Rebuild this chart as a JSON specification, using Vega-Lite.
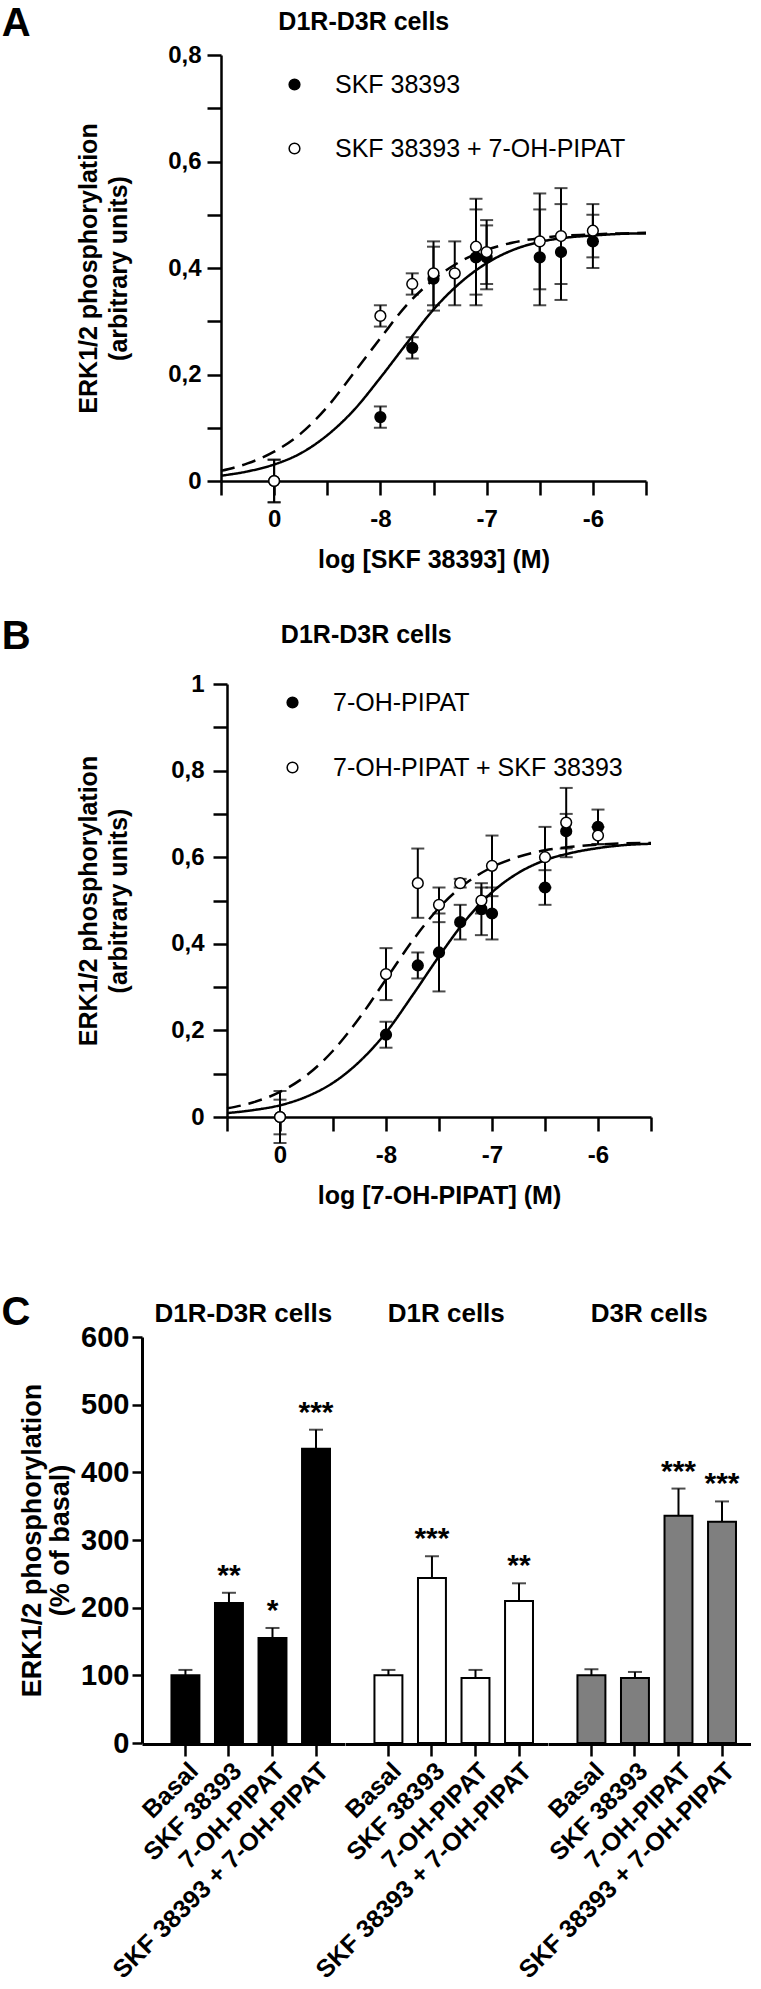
{
  "$schema": "https://vega.github.io/schema/vega-lite/v6.json",
  "background": "white",
  "padding": {"left": 0, "top": 4, "right": 0, "bottom": 0},
  "config": {
    "font": "Liberation Sans",
    "view": {"stroke": null},
    "axis": {"grid": false, "domainColor": "black", "tickColor": "black", "labelColor": "black", "titleColor": "black", "labelFontWeight": "bold", "titleFontWeight": "bold", "domainWidth": 2.5, "tickWidth": 2.5, "labelFont": "Liberation Sans", "titleFont": "Liberation Sans"},
    "title": {"font": "Liberation Sans", "fontWeight": "bold", "color": "black"},
    "header": {"labelFont": "Liberation Sans", "labelFontWeight": "bold", "labelColor": "black"},
    "legend": {"labelFont": "Liberation Sans", "labelColor": "black"}
  },
  "datasets": {
    "empty": [],
    "ptsA": [
      {"x": -9, "y": 0.0, "lo": -0.04, "hi": 0.04, "series": "SKF 38393"},
      {"x": -8, "y": 0.12, "lo": 0.10, "hi": 0.14, "series": "SKF 38393"},
      {"x": -7.7, "y": 0.25, "lo": 0.23, "hi": 0.27, "series": "SKF 38393"},
      {"x": -7.5, "y": 0.38, "lo": 0.32, "hi": 0.44, "series": "SKF 38393"},
      {"x": -7.1, "y": 0.42, "lo": 0.33, "hi": 0.51, "series": "SKF 38393"},
      {"x": -7, "y": 0.42, "lo": 0.36, "hi": 0.48, "series": "SKF 38393"},
      {"x": -6.5, "y": 0.42, "lo": 0.33, "hi": 0.51, "series": "SKF 38393"},
      {"x": -6.3, "y": 0.43, "lo": 0.34, "hi": 0.52, "series": "SKF 38393"},
      {"x": -6, "y": 0.45, "lo": 0.40, "hi": 0.50, "series": "SKF 38393"},
      {"x": -9, "y": 0.0, "lo": -0.04, "hi": 0.04, "series": "SKF 38393 + 7-OH-PIPAT"},
      {"x": -8, "y": 0.31, "lo": 0.29, "hi": 0.33, "series": "SKF 38393 + 7-OH-PIPAT"},
      {"x": -7.7, "y": 0.37, "lo": 0.35, "hi": 0.39, "series": "SKF 38393 + 7-OH-PIPAT"},
      {"x": -7.5, "y": 0.39, "lo": 0.33, "hi": 0.45, "series": "SKF 38393 + 7-OH-PIPAT"},
      {"x": -7.3, "y": 0.39, "lo": 0.33, "hi": 0.45, "series": "SKF 38393 + 7-OH-PIPAT"},
      {"x": -7.1, "y": 0.44, "lo": 0.35, "hi": 0.53, "series": "SKF 38393 + 7-OH-PIPAT"},
      {"x": -7, "y": 0.43, "lo": 0.37, "hi": 0.49, "series": "SKF 38393 + 7-OH-PIPAT"},
      {"x": -6.5, "y": 0.45, "lo": 0.36, "hi": 0.54, "series": "SKF 38393 + 7-OH-PIPAT"},
      {"x": -6.3, "y": 0.46, "lo": 0.37, "hi": 0.55, "series": "SKF 38393 + 7-OH-PIPAT"},
      {"x": -6, "y": 0.47, "lo": 0.42, "hi": 0.52, "series": "SKF 38393 + 7-OH-PIPAT"}
    ],
    "curveA": [
      {"x": -9.5, "y": 0.010, "fit": "single"}, {"x": -9.25, "y": 0.018, "fit": "single"}, {"x": -9.0, "y": 0.031, "fit": "single"}, {"x": -8.75, "y": 0.052, "fit": "single"}, {"x": -8.5, "y": 0.086, "fit": "single"}, {"x": -8.25, "y": 0.133, "fit": "single"}, {"x": -8.0, "y": 0.194, "fit": "single"}, {"x": -7.75, "y": 0.259, "fit": "single"}, {"x": -7.5, "y": 0.322, "fit": "single"}, {"x": -7.25, "y": 0.372, "fit": "single"}, {"x": -7.0, "y": 0.409, "fit": "single"}, {"x": -6.75, "y": 0.434, "fit": "single"}, {"x": -6.5, "y": 0.449, "fit": "single"}, {"x": -6.25, "y": 0.457, "fit": "single"}, {"x": -6.0, "y": 0.461, "fit": "single"}, {"x": -5.75, "y": 0.464, "fit": "single"}, {"x": -5.5, "y": 0.465, "fit": "single"},
      {"x": -9.5, "y": 0.019, "fit": "combined"}, {"x": -9.25, "y": 0.033, "fit": "combined"}, {"x": -9.0, "y": 0.055, "fit": "combined"}, {"x": -8.75, "y": 0.089, "fit": "combined"}, {"x": -8.5, "y": 0.139, "fit": "combined"}, {"x": -8.25, "y": 0.203, "fit": "combined"}, {"x": -8.0, "y": 0.268, "fit": "combined"}, {"x": -7.75, "y": 0.331, "fit": "combined"}, {"x": -7.5, "y": 0.378, "fit": "combined"}, {"x": -7.25, "y": 0.412, "fit": "combined"}, {"x": -7.0, "y": 0.434, "fit": "combined"}, {"x": -6.75, "y": 0.448, "fit": "combined"}, {"x": -6.5, "y": 0.456, "fit": "combined"}, {"x": -6.25, "y": 0.461, "fit": "combined"}, {"x": -6.0, "y": 0.463, "fit": "combined"}, {"x": -5.75, "y": 0.465, "fit": "combined"}, {"x": -5.5, "y": 0.466, "fit": "combined"}
    ],
    "ptsB": [
      {"x": -9, "y": 0.0, "lo": -0.04, "hi": 0.04, "series": "7-OH-PIPAT"},
      {"x": -8, "y": 0.19, "lo": 0.16, "hi": 0.22, "series": "7-OH-PIPAT"},
      {"x": -7.7, "y": 0.35, "lo": 0.32, "hi": 0.38, "series": "7-OH-PIPAT"},
      {"x": -7.5, "y": 0.38, "lo": 0.29, "hi": 0.47, "series": "7-OH-PIPAT"},
      {"x": -7.3, "y": 0.45, "lo": 0.41, "hi": 0.49, "series": "7-OH-PIPAT"},
      {"x": -7.1, "y": 0.48, "lo": 0.42, "hi": 0.54, "series": "7-OH-PIPAT"},
      {"x": -7, "y": 0.47, "lo": 0.41, "hi": 0.53, "series": "7-OH-PIPAT"},
      {"x": -6.5, "y": 0.53, "lo": 0.49, "hi": 0.57, "series": "7-OH-PIPAT"},
      {"x": -6.3, "y": 0.66, "lo": 0.62, "hi": 0.70, "series": "7-OH-PIPAT"},
      {"x": -6, "y": 0.67, "lo": 0.63, "hi": 0.71, "series": "7-OH-PIPAT"},
      {"x": -9, "y": 0.0, "lo": -0.06, "hi": 0.06, "series": "7-OH-PIPAT + SKF 38393"},
      {"x": -8, "y": 0.33, "lo": 0.27, "hi": 0.39, "series": "7-OH-PIPAT + SKF 38393"},
      {"x": -7.7, "y": 0.54, "lo": 0.46, "hi": 0.62, "series": "7-OH-PIPAT + SKF 38393"},
      {"x": -7.5, "y": 0.49, "lo": 0.45, "hi": 0.53, "series": "7-OH-PIPAT + SKF 38393"},
      {"x": -7.3, "y": 0.54, "lo": 0.53, "hi": 0.55, "series": "7-OH-PIPAT + SKF 38393"},
      {"x": -7.1, "y": 0.50, "lo": 0.47, "hi": 0.53, "series": "7-OH-PIPAT + SKF 38393"},
      {"x": -7, "y": 0.58, "lo": 0.51, "hi": 0.65, "series": "7-OH-PIPAT + SKF 38393"},
      {"x": -6.5, "y": 0.60, "lo": 0.53, "hi": 0.67, "series": "7-OH-PIPAT + SKF 38393"},
      {"x": -6.3, "y": 0.68, "lo": 0.60, "hi": 0.76, "series": "7-OH-PIPAT + SKF 38393"},
      {"x": -6, "y": 0.65, "lo": 0.63, "hi": 0.67, "series": "7-OH-PIPAT + SKF 38393"}
    ],
    "curveB": [
      {"x": -9.5, "y": 0.009, "fit": "single"}, {"x": -9.25, "y": 0.016, "fit": "single"}, {"x": -9.0, "y": 0.027, "fit": "single"}, {"x": -8.75, "y": 0.047, "fit": "single"}, {"x": -8.5, "y": 0.079, "fit": "single"}, {"x": -8.25, "y": 0.128, "fit": "single"}, {"x": -8.0, "y": 0.195, "fit": "single"}, {"x": -7.75, "y": 0.281, "fit": "single"}, {"x": -7.5, "y": 0.371, "fit": "single"}, {"x": -7.25, "y": 0.454, "fit": "single"}, {"x": -7.0, "y": 0.519, "fit": "single"}, {"x": -6.75, "y": 0.564, "fit": "single"}, {"x": -6.5, "y": 0.593, "fit": "single"}, {"x": -6.25, "y": 0.61, "fit": "single"}, {"x": -6.0, "y": 0.621, "fit": "single"}, {"x": -5.75, "y": 0.628, "fit": "single"}, {"x": -5.5, "y": 0.631, "fit": "single"},
      {"x": -9.5, "y": 0.020, "fit": "combined"}, {"x": -9.25, "y": 0.034, "fit": "combined"}, {"x": -9.0, "y": 0.058, "fit": "combined"}, {"x": -8.75, "y": 0.096, "fit": "combined"}, {"x": -8.5, "y": 0.153, "fit": "combined"}, {"x": -8.25, "y": 0.229, "fit": "combined"}, {"x": -8.0, "y": 0.318, "fit": "combined"}, {"x": -7.75, "y": 0.407, "fit": "combined"}, {"x": -7.5, "y": 0.483, "fit": "combined"}, {"x": -7.25, "y": 0.539, "fit": "combined"}, {"x": -7.0, "y": 0.577, "fit": "combined"}, {"x": -6.75, "y": 0.601, "fit": "combined"}, {"x": -6.5, "y": 0.616, "fit": "combined"}, {"x": -6.25, "y": 0.624, "fit": "combined"}, {"x": -6.0, "y": 0.629, "fit": "combined"}, {"x": -5.75, "y": 0.632, "fit": "combined"}, {"x": -5.5, "y": 0.633, "fit": "combined"}
    ],
    "bars": [
      {"cell": "D1R-D3R cells", "treatment": "Basal", "value": 100, "upper": 108, "sig": ""},
      {"cell": "D1R-D3R cells", "treatment": "SKF 38393", "value": 207, "upper": 222, "sig": "**"},
      {"cell": "D1R-D3R cells", "treatment": "7-OH-PIPAT", "value": 155, "upper": 170, "sig": "*"},
      {"cell": "D1R-D3R cells", "treatment": "SKF 38393 + 7-OH-PIPAT", "value": 435, "upper": 463, "sig": "***"},
      {"cell": "D1R cells", "treatment": "Basal", "value": 100, "upper": 108, "sig": ""},
      {"cell": "D1R cells", "treatment": "SKF 38393", "value": 244, "upper": 276, "sig": "***"},
      {"cell": "D1R cells", "treatment": "7-OH-PIPAT", "value": 96, "upper": 108, "sig": ""},
      {"cell": "D1R cells", "treatment": "SKF 38393 + 7-OH-PIPAT", "value": 210, "upper": 236, "sig": "**"},
      {"cell": "D3R cells", "treatment": "Basal", "value": 100, "upper": 109, "sig": ""},
      {"cell": "D3R cells", "treatment": "SKF 38393", "value": 96, "upper": 105, "sig": ""},
      {"cell": "D3R cells", "treatment": "7-OH-PIPAT", "value": 336, "upper": 376, "sig": "***"},
      {"cell": "D3R cells", "treatment": "SKF 38393 + 7-OH-PIPAT", "value": 327, "upper": 357, "sig": "***"}
    ]
  },
  "columns": 1,
  "spacing": 85,
  "resolve": {"scale": {"x": "independent", "y": "independent", "fill": "independent", "strokeDash": "independent"}, "legend": {"fill": "independent", "strokeDash": "independent"}, "axis": {"x": "independent", "y": "independent"}},
  "concat": [
    {
      "columns": 1,
      "spacing": 45,
      "resolve": {"scale": {"x": "independent", "y": "independent", "fill": "independent", "strokeDash": "independent"}, "legend": {"fill": "independent", "strokeDash": "independent"}, "axis": {"x": "independent", "y": "independent"}},
      "concat": [
        {
          "spacing": 0,
          "resolve": {"scale": {"x": "independent", "y": "independent", "fill": "independent", "strokeDash": "independent"}, "legend": {"fill": "independent", "strokeDash": "independent"}, "axis": {"x": "independent", "y": "independent"}},
          "hconcat": [
            {"width": 1, "height": 1, "data": {"name": "empty"}, "mark": {"type": "point", "opacity": 0}},
            {
              "title": {"text": "A", "anchor": "start", "frame": "bounds", "fontSize": 40, "dx": -75, "dy": 34, "offset": 0},
              "resolve": {"scale": {"fill": "independent", "strokeDash": "independent"}, "legend": {"fill": "independent", "strokeDash": "independent"}},
              "vconcat": [
                {
                  "title": {"text": "D1R-D3R cells", "anchor": "middle", "frame": "bounds", "fontSize": 25, "offset": 8},
                  "width": 425,
                  "height": 426,
                  "layer": [
                    {
                      "data": {"name": "curveA"},
                      "mark": {"type": "line", "interpolate": "monotone", "color": "black", "strokeWidth": 2.5},
                      "encoding": {
                        "x": {"field": "x", "type": "quantitative", "scale": {"domain": [-9.5, -5.5], "nice": false, "zero": false},
                          "axis": {"values": [-9.5, -9, -8.5, -8, -7.5, -7, -6.5, -6, -5.5], "labelExpr": "datum.value == -9 ? '0' : (datum.value % 1 == 0 ? '-' + abs(datum.value) : '')", "title": "log [SKF 38393] (M)", "labelFontSize": 24, "titleFontSize": 25, "tickSize": 14, "labelPadding": 12, "titlePadding": 16, "labelFlush": false}},
                        "y": {"field": "y", "type": "quantitative", "scale": {"domain": [0, 0.8], "nice": false},
                          "axis": {"values": [0, 0.1, 0.2, 0.3, 0.4, 0.5, 0.6, 0.7, 0.8], "labelExpr": "datum.value == 0 ? '0' : (round(datum.value * 10) % 2 == 0 ? replace(format(datum.value, '.1f'), '.', ',') : '')", "title": ["ERK1/2 phosphorylation", "(arbitrary units)"], "labelFontSize": 24, "titleFontSize": 25, "tickSize": 14, "labelPadding": 6, "titlePadding": 36, "titleLineHeight": 30}},
                        "strokeDash": {"field": "fit", "type": "nominal", "scale": {"domain": ["single", "combined"], "range": [[1, 0], [14, 8]]}, "legend": null}
                      }
                    },
                    {
                      "data": {"name": "ptsA"},
                      "mark": {"type": "rule", "color": "black", "strokeWidth": 2},
                      "encoding": {"x": {"field": "x", "type": "quantitative"}, "y": {"field": "lo", "type": "quantitative"}, "y2": {"field": "hi"}}
                    },
                    {
                      "data": {"name": "ptsA"},
                      "mark": {"type": "tick", "orient": "horizontal", "color": "black", "size": 13, "thickness": 2},
                      "encoding": {"x": {"field": "x", "type": "quantitative"}, "y": {"field": "lo", "type": "quantitative"}}
                    },
                    {
                      "data": {"name": "ptsA"},
                      "mark": {"type": "tick", "orient": "horizontal", "color": "black", "size": 13, "thickness": 2},
                      "encoding": {"x": {"field": "x", "type": "quantitative"}, "y": {"field": "hi", "type": "quantitative"}}
                    },
                    {
                      "data": {"name": "ptsA"},
                      "mark": {"type": "point", "filled": true, "size": 115, "stroke": "black", "strokeWidth": 1.5, "opacity": 1},
                      "encoding": {
                        "x": {"field": "x", "type": "quantitative"},
                        "y": {"field": "y", "type": "quantitative"},
                        "fill": {"field": "series", "type": "nominal", "scale": {"domain": ["SKF 38393", "SKF 38393 + 7-OH-PIPAT"], "range": ["black", "white"]},
                          "legend": {"orient": "none", "legendX": 61, "legendY": 17, "title": null, "labelFontSize": 25, "labelFontWeight": "normal", "labelLimit": 0, "symbolSize": 115, "symbolType": "circle", "symbolStrokeColor": "black", "symbolStrokeWidth": 1.5, "rowPadding": 38, "labelOffset": 28, "padding": 0}}
                      }
                    }
                  ]
                }
              ]
            }
          ]
        },
        {
          "spacing": 0,
          "resolve": {"scale": {"x": "independent", "y": "independent", "fill": "independent", "strokeDash": "independent"}, "legend": {"fill": "independent", "strokeDash": "independent"}, "axis": {"x": "independent", "y": "independent"}},
          "hconcat": [
            {"width": 1, "height": 1, "data": {"name": "empty"}, "mark": {"type": "point", "opacity": 0}},
            {
              "title": {"text": "B", "anchor": "start", "frame": "bounds", "fontSize": 40, "dx": -75, "dy": 34, "offset": 0},
              "resolve": {"scale": {"fill": "independent", "strokeDash": "independent"}, "legend": {"fill": "independent", "strokeDash": "independent"}},
              "vconcat": [
                {
                  "title": {"text": "D1R-D3R cells", "anchor": "middle", "frame": "bounds", "fontSize": 25, "offset": 24},
                  "width": 424,
                  "height": 433,
                  "layer": [
                    {
                      "data": {"name": "curveB"},
                      "mark": {"type": "line", "interpolate": "monotone", "color": "black", "strokeWidth": 2.5},
                      "encoding": {
                        "x": {"field": "x", "type": "quantitative", "scale": {"domain": [-9.5, -5.5], "nice": false, "zero": false},
                          "axis": {"values": [-9.5, -9, -8.5, -8, -7.5, -7, -6.5, -6, -5.5], "labelExpr": "datum.value == -9 ? '0' : (datum.value % 1 == 0 ? '-' + abs(datum.value) : '')", "title": "log [7-OH-PIPAT] (M)", "labelFontSize": 24, "titleFontSize": 25, "tickSize": 14, "labelPadding": 12, "titlePadding": 16, "labelFlush": false}},
                        "y": {"field": "y", "type": "quantitative", "scale": {"domain": [0, 1], "nice": false},
                          "axis": {"values": [0, 0.1, 0.2, 0.3, 0.4, 0.5, 0.6, 0.7, 0.8, 0.9, 1], "labelExpr": "datum.value == 0 ? '0' : (datum.value == 1 ? '1' : (round(datum.value * 10) % 2 == 0 ? replace(format(datum.value, '.1f'), '.', ',') : ''))", "title": ["ERK1/2 phosphorylation", "(arbitrary units)"], "labelFontSize": 24, "titleFontSize": 25, "tickSize": 14, "labelPadding": 9, "titlePadding": 39, "titleLineHeight": 30}},
                        "strokeDash": {"field": "fit", "type": "nominal", "scale": {"domain": ["single", "combined"], "range": [[1, 0], [14, 8]]}, "legend": null}
                      }
                    },
                    {
                      "data": {"name": "ptsB"},
                      "mark": {"type": "rule", "color": "black", "strokeWidth": 2},
                      "encoding": {"x": {"field": "x", "type": "quantitative"}, "y": {"field": "lo", "type": "quantitative"}, "y2": {"field": "hi"}}
                    },
                    {
                      "data": {"name": "ptsB"},
                      "mark": {"type": "tick", "orient": "horizontal", "color": "black", "size": 13, "thickness": 2},
                      "encoding": {"x": {"field": "x", "type": "quantitative"}, "y": {"field": "lo", "type": "quantitative"}}
                    },
                    {
                      "data": {"name": "ptsB"},
                      "mark": {"type": "tick", "orient": "horizontal", "color": "black", "size": 13, "thickness": 2},
                      "encoding": {"x": {"field": "x", "type": "quantitative"}, "y": {"field": "hi", "type": "quantitative"}}
                    },
                    {
                      "data": {"name": "ptsB"},
                      "mark": {"type": "point", "filled": true, "size": 115, "stroke": "black", "strokeWidth": 1.5, "opacity": 1},
                      "encoding": {
                        "x": {"field": "x", "type": "quantitative"},
                        "y": {"field": "y", "type": "quantitative"},
                        "fill": {"field": "series", "type": "nominal", "scale": {"domain": ["7-OH-PIPAT", "7-OH-PIPAT + SKF 38393"], "range": ["black", "white"]},
                          "legend": {"orient": "none", "legendX": 53, "legendY": 6, "title": null, "labelFontSize": 25, "labelFontWeight": "normal", "labelLimit": 0, "symbolSize": 115, "symbolType": "circle", "symbolStrokeColor": "black", "symbolStrokeWidth": 1.5, "rowPadding": 39, "labelOffset": 28, "padding": 0}}
                      }
                    }
                  ]
                }
              ]
            }
          ]
        }
      ]
    },
    {
      "spacing": 0,
      "resolve": {"scale": {"x": "independent", "y": "independent", "fill": "independent"}, "legend": {"fill": "independent"}, "axis": {"x": "independent", "y": "independent"}},
      "hconcat": [
        {"width": 1, "height": 1, "data": {"name": "empty"}, "mark": {"type": "point", "opacity": 0}},
        {
          "title": {"text": "C", "anchor": "start", "frame": "bounds", "fontSize": 40, "dx": -17, "dy": 32, "offset": 0},
          "data": {"name": "bars"},
          "facet": {"column": {"field": "cell", "type": "nominal", "sort": ["D1R-D3R cells", "D1R cells", "D3R cells"], "header": {"title": null, "labelFontSize": 26, "labelPadding": 10}}},
          "spacing": 0,
          "spec": {
            "width": 202.5,
            "height": 406,
            "layer": [
              {
                "mark": {"type": "bar", "stroke": "black", "strokeWidth": 2},
                "encoding": {
                  "x": {"field": "treatment", "type": "nominal", "sort": ["Basal", "SKF 38393", "7-OH-PIPAT", "SKF 38393 + 7-OH-PIPAT"], "scale": {"paddingInner": 0.358, "paddingOuter": 0.505, "align": 0.67},
                    "axis": {"title": null, "labelAngle": -45, "labelFontSize": 25, "labelLimit": 0, "tickSize": 12, "domainWidth": 3, "tickWidth": 2.5, "labelPadding": 2}},
                  "y": {"field": "value", "type": "quantitative", "scale": {"domain": [0, 600], "nice": false},
                    "axis": {"values": [0, 100, 200, 300, 400, 500, 600], "title": ["ERK1/2 phosphorylation", "(% of basal)"], "labelFontSize": 29, "titleFontSize": 27, "tickSize": 10, "domainWidth": 3, "labelPadding": 3, "titlePadding": 6, "titleLineHeight": 28}},
                  "fill": {"field": "cell", "type": "nominal", "scale": {"domain": ["D1R-D3R cells", "D1R cells", "D3R cells"], "range": ["black", "white", "#7f7f7f"]}, "legend": null}
                }
              },
              {
                "mark": {"type": "rule", "color": "black", "strokeWidth": 2},
                "encoding": {
                  "x": {"field": "treatment", "type": "nominal", "sort": ["Basal", "SKF 38393", "7-OH-PIPAT", "SKF 38393 + 7-OH-PIPAT"]},
                  "y": {"field": "value", "type": "quantitative"},
                  "y2": {"field": "upper"}
                }
              },
              {
                "mark": {"type": "tick", "color": "black", "size": 14, "thickness": 2},
                "encoding": {
                  "x": {"field": "treatment", "type": "nominal", "sort": ["Basal", "SKF 38393", "7-OH-PIPAT", "SKF 38393 + 7-OH-PIPAT"]},
                  "y": {"field": "upper", "type": "quantitative"}
                }
              },
              {
                "mark": {"type": "text", "fontSize": 30, "fontWeight": "bold", "color": "black", "baseline": "alphabetic", "dy": -8},
                "encoding": {
                  "x": {"field": "treatment", "type": "nominal", "sort": ["Basal", "SKF 38393", "7-OH-PIPAT", "SKF 38393 + 7-OH-PIPAT"]},
                  "y": {"field": "upper", "type": "quantitative"},
                  "text": {"field": "sig"}
                }
              }
            ]
          }
        }
      ]
    }
  ]
}
